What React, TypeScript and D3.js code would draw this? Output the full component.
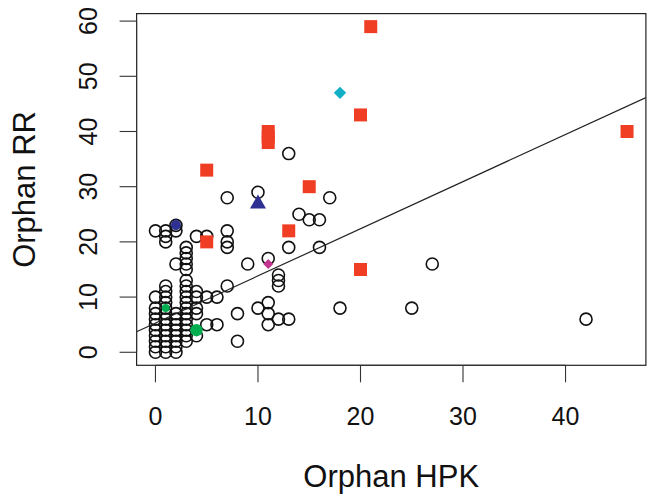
import React from "react";
import * as d3 from "d3";

// Open-circle genomes: [orphan HPK, orphan RR]
const genomePoints: [number, number][] = [
  [0, 0], [0, 1], [0, 2], [0, 3], [0, 4], [0, 5], [0, 6], [0, 7], [0, 8], [0, 10], [0, 22],
  [1, 0], [1, 1], [1, 2], [1, 3], [1, 4], [1, 5], [1, 6], [1, 7], [1, 8], [1, 9], [1, 10], [1, 11], [1, 12],
  [1, 20], [1, 21], [1, 22],
  [2, 0], [2, 1], [2, 2], [2, 3], [2, 4], [2, 5], [2, 6], [2, 7], [2, 16], [2, 22], [2, 23],
  [3, 2], [3, 3], [3, 4], [3, 5], [3, 6], [3, 7], [3, 8], [3, 9], [3, 10], [3, 11], [3, 12], [3, 13],
  [3, 15], [3, 16], [3, 17], [3, 18], [3, 19],
  [4, 3], [4, 7], [4, 8], [4, 10], [4, 11], [4, 21],
  [5, 5], [5, 10], [5, 21],
  [6, 5], [6, 10],
  [7, 12], [7, 19], [7, 20], [7, 22], [7, 28],
  [8, 2], [8, 7],
  [9, 16],
  [10, 8], [10, 29],
  [11, 5], [11, 7], [11, 9], [11, 17],
  [12, 6], [12, 12], [12, 13], [12, 14],
  [13, 6], [13, 19], [13, 36],
  [14, 25], [15, 24], [16, 19], [16, 24], [17, 28], [18, 8],
  [25, 8], [27, 16], [42, 6],
];

// Highlighted genomes
const redSquares: [number, number][] = [
  [21, 59], [20, 43], [11, 40], [11, 39], [11, 38], [5, 33], [15, 30],
  [13, 22], [5, 20], [20, 15], [46, 40],
];
const cyanDiamonds: [number, number][] = [[18, 47]];
const navyTriangles: [number, number][] = [[10, 27]];
const navyCircles: [number, number][] = [[2, 23]];
const magentaDiamonds: [number, number][] = [[11, 16]];
const greenLarge: [number, number][] = [[4, 4]];
const greenSmall: [number, number][] = [[1, 8]];

// Least-squares fit line: RR = intercept + slope * HPK
const fitIntercept = 5.3;
const fitSlope = 0.854;

const xTicks = [0, 10, 20, 30, 40];
const yTicks = [0, 10, 20, 30, 40, 50, 60];
const xLabel = "Orphan HPK";
const yLabel = "Orphan RR";

const W = 647;
const H = 495;
const plot = { left: 136.6, right: 645.9, top: 13.6, bottom: 365.3 };

const allX = [...genomePoints, ...redSquares, ...cyanDiamonds].map((d) => d[0]);
const allY = [...genomePoints, ...redSquares, ...cyanDiamonds].map((d) => d[1]);
const xExt = d3.extent(allX) as [number, number];
const yExt = d3.extent(allY) as [number, number];
const padX = (xExt[1] - xExt[0]) * 0.04;
const padY = (yExt[1] - yExt[0]) * 0.04;

const x = d3.scaleLinear().domain([xExt[0] - padX, xExt[1] + padX]).range([plot.left, plot.right]);
const y = d3.scaleLinear().domain([yExt[0] - padY, yExt[1] + padY]).range([plot.bottom, plot.top]);

const FONT = "'Liberation Sans', Arial, Helvetica, sans-serif";

export default function App() {
  const sq = d3.symbol().type(d3.symbolSquare).size(169)();
  const diamond = (s: number) => `M0,${-s}L${s},0L0,${s}L${-s},0Z`;
  const tri = (w: number, h: number) => `M0,${-h * 0.62}L${w / 2},${h * 0.38}L${-w / 2},${h * 0.38}Z`;

  const [xd0, xd1] = x.domain();
  const lineX = [xd0, xd1];

  return (
    <svg
      width={W}
      height={H}
      style={{ position: "absolute", left: 0, top: 0, background: "#fff" }}
      fontFamily={FONT}
    >
      <defs>
        <clipPath id="plotclip">
          <rect x={plot.left} y={plot.top} width={plot.right - plot.left} height={plot.bottom - plot.top} />
        </clipPath>
      </defs>

      {/* open circles */}
      <g fill="none" stroke="#111" strokeWidth={1.6}>
        {genomePoints.map((d, i) => (
          <circle key={i} cx={x(d[0])} cy={y(d[1])} r={6} />
        ))}
      </g>

      {/* regression line */}
      <line
        clipPath="url(#plotclip)"
        x1={x(lineX[0])}
        y1={y(fitIntercept + fitSlope * lineX[0])}
        x2={x(lineX[1])}
        y2={y(fitIntercept + fitSlope * lineX[1])}
        stroke="#222"
        strokeWidth={1.2}
      />

      {/* highlighted genomes */}
      <g fill="#F03E25">
        {redSquares.map((d, i) => (
          <path key={i} d={sq} transform={`translate(${x(d[0])},${y(d[1])})`} />
        ))}
      </g>
      <g fill="#12AFC6">
        {cyanDiamonds.map((d, i) => (
          <path key={i} d={diamond(6.2)} transform={`translate(${x(d[0])},${y(d[1])})`} />
        ))}
      </g>
      <g fill="#2E3192">
        {navyTriangles.map((d, i) => (
          <path key={i} d={tri(16, 14)} transform={`translate(${x(d[0])},${y(d[1])})`} />
        ))}
        {navyCircles.map((d, i) => (
          <g key={i} transform={`translate(${x(d[0])},${y(d[1])})`}>
            <circle r={5} />
            <path d={tri(8, 8)} transform="translate(0,-2)" />
          </g>
        ))}
      </g>
      <g fill="#C2338F">
        {magentaDiamonds.map((d, i) => (
          <path key={i} d={diamond(5)} transform={`translate(${x(d[0])},${y(d[1])})`} />
        ))}
      </g>
      <g fill="#00AE50">
        {greenLarge.map((d, i) => (
          <circle key={i} cx={x(d[0])} cy={y(d[1])} r={6.2} />
        ))}
        {greenSmall.map((d, i) => (
          <circle key={i} cx={x(d[0])} cy={y(d[1])} r={4} />
        ))}
      </g>

      {/* plot frame */}
      <rect
        x={plot.left}
        y={plot.top}
        width={plot.right - plot.left}
        height={plot.bottom - plot.top}
        fill="none"
        stroke="#222"
        strokeWidth={1.2}
      />

      {/* x axis */}
      <g stroke="#333" strokeWidth={1.1}>
        <line x1={x(xTicks[0])} x2={x(xTicks[xTicks.length - 1])} y1={plot.bottom} y2={plot.bottom} />
        {xTicks.map((t) => (
          <line key={t} x1={x(t)} x2={x(t)} y1={plot.bottom} y2={plot.bottom + 17} />
        ))}
      </g>
      <g fontSize={25} fill="#111" textAnchor="middle">
        {xTicks.map((t) => (
          <text key={t} x={x(t)} y={425}>
            {t}
          </text>
        ))}
      </g>

      {/* y axis */}
      <g stroke="#333" strokeWidth={1.1}>
        <line x1={plot.left} x2={plot.left} y1={y(yTicks[0])} y2={y(yTicks[yTicks.length - 1])} />
        {yTicks.map((t) => (
          <line key={t} x1={plot.left - 17} x2={plot.left} y1={y(t)} y2={y(t)} />
        ))}
      </g>
      <g fontSize={25} fill="#111" textAnchor="middle">
        {yTicks.map((t) => (
          <text key={t} x={97} y={y(t)} transform={`rotate(-90, 97, ${y(t)})`}>
            {t}
          </text>
        ))}
      </g>

      {/* axis titles */}
      <text x={(plot.left + plot.right) / 2} y={487} fontSize={31} textAnchor="middle" fill="#111">
        {xLabel}
      </text>
      <text
        x={35}
        y={(plot.top + plot.bottom) / 2}
        fontSize={31}
        textAnchor="middle"
        fill="#111"
        transform={`rotate(-90, 35, ${(plot.top + plot.bottom) / 2})`}
      >
        {yLabel}
      </text>
    </svg>
  );
}
